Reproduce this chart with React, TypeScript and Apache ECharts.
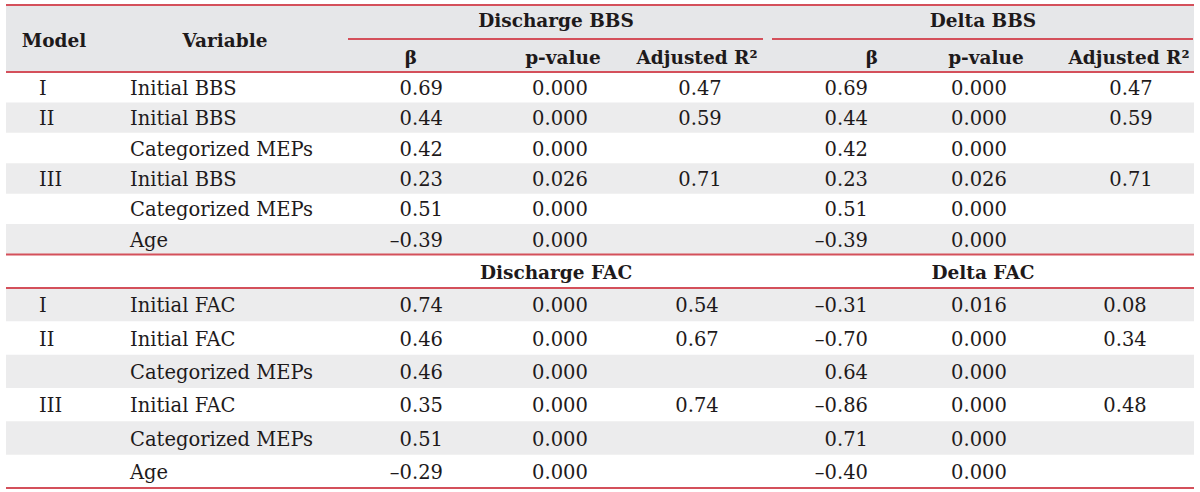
import React, { useEffect, useRef } from "react";
import * as echarts from "echarts";

// ---------- data ----------
const groupHeadersTop = ["Discharge BBS", "Delta BBS"];
const groupHeadersBottom = ["Discharge FAC", "Delta FAC"];
const subHeaders = ["β", "p-value", "Adjusted R²"];

const bbsModels = ["I", "II", "", "III", "", ""];
const bbsVariables = ["Initial BBS", "Initial BBS", "Categorized MEPs", "Initial BBS", "Categorized MEPs", "Age"];
const dischargeBBSBeta = [0.69, 0.44, 0.42, 0.23, 0.51, -0.39];
const dischargeBBSP = [0.0, 0.0, 0.0, 0.026, 0.0, 0.0];
const dischargeBBSR2 = [0.47, 0.59, null, 0.71, null, null];
const deltaBBSBeta = [0.69, 0.44, 0.42, 0.23, 0.51, -0.39];
const deltaBBSP = [0.0, 0.0, 0.0, 0.026, 0.0, 0.0];
const deltaBBSR2 = [0.47, 0.59, null, 0.71, null, null];

const facModels = ["I", "II", "", "III", "", ""];
const facVariables = ["Initial FAC", "Initial FAC", "Categorized MEPs", "Initial FAC", "Categorized MEPs", "Age"];
const dischargeFACBeta = [0.74, 0.46, 0.46, 0.35, 0.51, -0.29];
const dischargeFACP = [0.0, 0.0, 0.0, 0.0, 0.0, 0.0];
const dischargeFACR2 = [0.54, 0.67, null, 0.74, null, null];
const deltaFACBeta = [-0.31, -0.7, 0.64, -0.86, 0.71, -0.4];
const deltaFACP = [0.016, 0.0, 0.0, 0.0, 0.0, 0.0];
const deltaFACR2 = [0.08, 0.34, null, 0.48, null, null];

// ---------- helpers ----------
const fmt = (v: number | null, d: number) =>
  v === null ? "" : (v < 0 ? "–" : "") + Math.abs(v).toFixed(d);

const RED = "#d4505b";
const GRAY_HEAD = "#e6e7e9";
const GRAY_ROW = "#ececed";
const INK = "#1e1a1b";
const FONT = "'DejaVu Serif', serif";

const L = 6;
const R = 1194;

function txt(text: string, x: number, y: number, align: string, bold = false, size?: number) {
  return {
    type: "text",
    z: 10,
    style: {
      text,
      x,
      y,
      fill: INK,
      fontFamily: FONT,
      fontSize: size ?? (bold ? 18.5 : 19.5),
      fontWeight: bold ? "bold" : "normal",
      align,
      verticalAlign: "middle",
      textAlign: align,
      textVerticalAlign: "middle",
    },
  };
}
function hline(x1: number, x2: number, y: number) {
  return {
    type: "line",
    z: 5,
    shape: { x1, y1: y, x2, y2: y },
    style: { stroke: RED, lineWidth: 1.8 },
  };
}
function band(y: number, h: number, fill: string) {
  return { type: "rect", z: 1, shape: { x: L, y, width: R - L, height: h }, style: { fill } };
}

// column layout
const colModel = 39;
const colVar = 130;
const colDB = 443; // right
const colDP = 560;
const colDR = 700;
const colLB = 868; // right
const colLP = 979;
const colLR = 1131;

function buildGraphics() {
  const g: any[] = [];
  // header band
  g.push(band(5, 67, GRAY_HEAD));
  g.push(hline(L, R, 5));
  g.push(hline(348, 763, 39));
  g.push(hline(772, 1193, 39));
  g.push(hline(L, R, 72));
  g.push(txt("Model", 54, 40, "center", true));
  g.push(txt("Variable", 225, 40, "center", true));
  g.push(txt(groupHeadersTop[0], 556, 20, "center", true));
  g.push(txt(groupHeadersTop[1], 983, 20, "center", true));
  const subX = [
    [411, 563, 697],
    [872, 986, 1129],
  ];
  subX.forEach((xs) => {
    xs.forEach((x, i) => g.push(txt(subHeaders[i], x, 57, "center", true)));
  });

  // BBS section
  const bbsTop = 72;
  const bbsH = (254.5 - 72) / 6;
  bbsVariables.forEach((v, i) => {
    const y0 = bbsTop + i * bbsH;
    if (i % 2 === 1) g.push(band(y0, bbsH, GRAY_ROW));
    const cy = y0 + bbsH / 2 + 1;
    if (bbsModels[i]) g.push(txt(bbsModels[i], colModel, cy, "left"));
    g.push(txt(v, colVar, cy, "left"));
    g.push(txt(fmt(dischargeBBSBeta[i], 2), colDB, cy, "right"));
    g.push(txt(fmt(dischargeBBSP[i], 3), colDP, cy, "center"));
    g.push(txt(fmt(dischargeBBSR2[i], 2), colDR, cy, "center"));
    g.push(txt(fmt(deltaBBSBeta[i], 2), colLB, cy, "right"));
    g.push(txt(fmt(deltaBBSP[i], 3), colLP, cy, "center"));
    g.push(txt(fmt(deltaBBSR2[i], 2), colLR, cy, "center"));
  });
  g.push(hline(L, R, 254.5));

  // FAC group header row
  g.push(txt(groupHeadersBottom[0], 556, 272, "center", true));
  g.push(txt(groupHeadersBottom[1], 983, 272, "center", true));
  g.push(hline(L, R, 288));

  // FAC section
  const facTop = 288;
  const facH = (488 - 288) / 6;
  facVariables.forEach((v, i) => {
    const y0 = facTop + i * facH;
    if (i % 2 === 0) g.push(band(y0, facH, GRAY_ROW));
    const cy = y0 + facH / 2 + 1;
    if (facModels[i]) g.push(txt(facModels[i], colModel, cy, "left"));
    g.push(txt(v, colVar, cy, "left"));
    g.push(txt(fmt(dischargeFACBeta[i], 2), colDB, cy, "right"));
    g.push(txt(fmt(dischargeFACP[i], 3), colDP, cy, "center"));
    g.push(txt(fmt(dischargeFACR2[i], 2), colDR - 3, cy, "center"));
    g.push(txt(fmt(deltaFACBeta[i], 2), colLB, cy, "right"));
    g.push(txt(fmt(deltaFACP[i], 3), colLP, cy, "center"));
    g.push(txt(fmt(deltaFACR2[i], 2), colLR - 6, cy, "center"));
  });
  g.push(hline(L, R, 488));
  return g;
}

export default function App() {
  const ref = useRef<HTMLDivElement>(null);
  useEffect(() => {
    if (!ref.current) return;
    const chart = echarts.init(ref.current, null, { renderer: "svg" });
    chart.setOption({
      animation: false,
      backgroundColor: "#ffffff",
      graphic: { elements: buildGraphics() },
    });
    return () => chart.dispose();
  }, []);
  return (
    <div
      ref={ref}
      style={{ position: "absolute", left: 0, top: 0, width: 1200, height: 492, background: "#fff" }}
    />
  );
}
